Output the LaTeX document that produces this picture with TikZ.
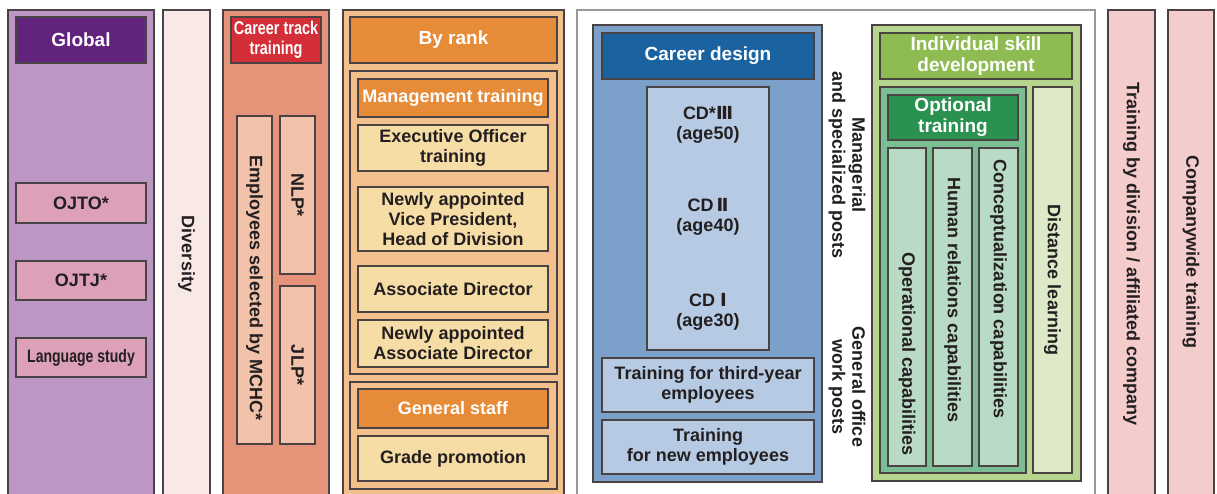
\documentclass[tikz,border=0pt]{standalone}
\usepackage{fontspec}
\setmainfont{Liberation Sans}
\newfontfamily\cond[FakeStretch=0.78]{Liberation Sans}
\newfontfamily\numf{DejaVu Sans}
\definecolor{bord}{HTML}{4A4343}
\definecolor{txt}{HTML}{231F20}
\definecolor{cGlobal}{HTML}{BC97C4}
\definecolor{cGlobalHd}{HTML}{62237F}
\definecolor{cPink}{HTML}{DCA0B8}
\definecolor{cDiv}{HTML}{F9E9E6}
\definecolor{cTrack}{HTML}{E69479}
\definecolor{cTrackHd}{HTML}{D42E38}
\definecolor{cTrackSub}{HTML}{F2C3AA}
\definecolor{cRank}{HTML}{F2BF8D}
\definecolor{cOrange}{HTML}{E68B38}
\definecolor{cCream}{HTML}{F6DCA5}
\definecolor{cCD}{HTML}{7BA0C9}
\definecolor{cCDHd}{HTML}{1A62A0}
\definecolor{cLBlue}{HTML}{B7CAE3}
\definecolor{cGreen}{HTML}{B7D58F}
\definecolor{cGreenHd}{HTML}{8EBB52}
\definecolor{cMidGreen}{HTML}{7BBE93}
\definecolor{cDkGreen}{HTML}{2A9151}
\definecolor{cPaleGreen}{HTML}{B9DBC6}
\definecolor{cDist}{HTML}{DEE9C8}
\definecolor{cPinkCol}{HTML}{F4CCCC}
\tikzset{
  box/.style={draw=bord, line width=1.1pt, inner sep=0pt, outer sep=0pt, anchor=north west,
    text=txt, align=center, font=\bfseries\fontsize{18}{20}\selectfont},
  hd/.style={box, text=white, font=\bfseries\fontsize{19}{21}\selectfont},
  vlbl/.style={text=txt, rotate=-90, align=center, inner sep=0pt,
    font=\bfseries\fontsize{18}{20}\selectfont},
}
\begin{document}
\begin{tikzpicture}[x=1pt,y=-1pt]
\useasboundingbox (0,0) rectangle (1217,493);
\clip (0,0) rectangle (1217,493);
% Global column
\node[box, fill=cGlobal, minimum width=146, minimum height=490] (global) at (8,10) {};
\node[hd, fill=cGlobalHd, minimum width=130, minimum height=46] (globalhd) at (16,17) {Global};
\node[box, fill=cPink, minimum width=130, minimum height=40] (ojto) at (16,183) {OJTO*};
\node[box, fill=cPink, minimum width=130, minimum height=39] (ojtj) at (16,261) {OJTJ*};
\node[box, fill=cPink, minimum width=130, minimum height=39, font=\cond\bfseries\fontsize{18}{20}\selectfont] (lang) at (16,338) {Language study};
% Diversity
\node[box, fill=cDiv, minimum width=47, minimum height=490] (diversity) at (163,10) {};
\node[vlbl] (divtxt) at (186.5,254) {Diversity};
% Career track
\node[box, fill=cTrack, minimum width=106, minimum height=490] (ctrack) at (223,10) {};
\node[hd, fill=cTrackHd, minimum width=90, minimum height=46, font=\cond\bfseries\fontsize{18.5}{20}\selectfont] (cthd) at (231,17) {Career track\\training};
\node[box, fill=cTrackSub, minimum width=35, minimum height=328] (emp) at (237,116) {};
\node[vlbl] (emptxt) at (254.5,288) {Employees selected by MCHC*};
\node[box, fill=cTrackSub, minimum width=35, minimum height=158] (nlp) at (280,116) {};
\node[vlbl] (nlptxt) at (297.5,195) {NLP*};
\node[box, fill=cTrackSub, minimum width=35, minimum height=158] (jlp) at (280,286) {};
\node[vlbl] (jlptxt) at (297.5,365) {JLP*};
% By rank
\node[box, fill=cRank, minimum width=221, minimum height=490] (rank) at (343,10) {};
\node[hd, fill=cOrange, minimum width=207, minimum height=46] (rankhd) at (350,17) {By rank};
\node[box, fill=cRank, minimum width=207, minimum height=303] (mgmt) at (350,71) {};
\node[hd, fill=cOrange, minimum width=190, minimum height=38, font=\bfseries\fontsize{18}{20}\selectfont] (mgmthd) at (358,79) {Management training};
\node[box, fill=cCream, minimum width=190, minimum height=46] (exec) at (358,125) {Executive Officer\\training};
\node[box, fill=cCream, minimum width=190, minimum height=64] (vp) at (358,187) {Newly appointed\\Vice President,\\Head of Division};
\node[box, fill=cCream, minimum width=190, minimum height=46] (ad) at (358,266) {Associate Director};
\node[box, fill=cCream, minimum width=190, minimum height=47] (nad) at (358,320) {Newly appointed\\Associate Director};
\node[box, fill=cRank, minimum width=207, minimum height=107] (gen) at (350,382) {};
\node[hd, fill=cOrange, minimum width=190, minimum height=39, font=\bfseries\fontsize{18}{20}\selectfont] (genhd) at (358,389) {General staff};
\node[box, fill=cCream, minimum width=190, minimum height=45] (grade) at (358,436) {Grade promotion};
% White frame
\node[box, draw=gray!80, fill=white, minimum width=518, minimum height=490] (frame) at (577,10) {};
% Career design
\node[box, fill=cCD, minimum width=229, minimum height=457] (cd) at (593,25) {};
\node[hd, fill=cCDHd, minimum width=212, minimum height=46] (cdhd) at (602,33) {Career design};
\node[box, fill=cLBlue, minimum width=122, minimum height=263] (cdbox) at (647,87) {};
\node[text=txt, align=center, inner sep=0pt, font=\bfseries\fontsize{18}{20}\selectfont] (cd3) at (708,125) {CD*{\numf Ⅲ}\\(age50)};
\node[text=txt, align=center, inner sep=0pt, font=\bfseries\fontsize{18}{20}\selectfont] (cd2) at (708,217) {CD\,{\numf Ⅱ}\\(age40)};
\node[text=txt, align=center, inner sep=0pt, font=\bfseries\fontsize{18}{20}\selectfont] (cd1) at (708,312) {CD {\numf Ⅰ}\\(age30)};
\node[box, fill=cLBlue, minimum width=212, minimum height=54] (third) at (602,358) {Training for third-year\\employees};
\node[box, fill=cLBlue, minimum width=212, minimum height=54] (newemp) at (602,420) {Training\\for new employees};
\node[vlbl] (mgrposts) at (847,165) {Managerial\\and specialized posts};
\node[vlbl] (genposts) at (847,387) {General office\\work posts};
% Individual skill development
\node[box, fill=cGreen, minimum width=209, minimum height=456] (isd) at (872,25) {};
\node[hd, fill=cGreenHd, minimum width=192, minimum height=46] (isdhd) at (880,33) {Individual skill\\development};
\node[box, fill=cMidGreen, minimum width=146, minimum height=386] (opt) at (880,87) {};
\node[hd, fill=cDkGreen, minimum width=130, minimum height=45] (opthd) at (888,95) {Optional\\training};
\node[box, fill=cPaleGreen, minimum width=38, minimum height=318] (op1) at (888,148) {};
\node[box, fill=cPaleGreen, minimum width=39, minimum height=318] (op2) at (933,148) {};
\node[box, fill=cPaleGreen, minimum width=39, minimum height=318] (op3) at (979,148) {};
\node[vlbl] (op1txt) at (907,354) {Operational capabilities};
\node[vlbl] (op2txt) at (952.5,300) {Human relations capabilities};
\node[vlbl] (op3txt) at (998.5,289) {Conceptualization capabilities};
\node[box, fill=cDist, minimum width=39, minimum height=386] (dist) at (1033,87) {};
\node[vlbl] (disttxt) at (1052.5,280) {Distance learning};
% Right columns
\node[box, fill=cPinkCol, minimum width=47, minimum height=490] (division) at (1108,10) {};
\node[vlbl] (divisiontxt) at (1131.5,254) {Training by division / affiliated company};
\node[box, fill=cPinkCol, minimum width=46, minimum height=490] (company) at (1168,10) {};
\node[vlbl] (companytxt) at (1191,252) {Companywide training};
\end{tikzpicture}
\end{document}
